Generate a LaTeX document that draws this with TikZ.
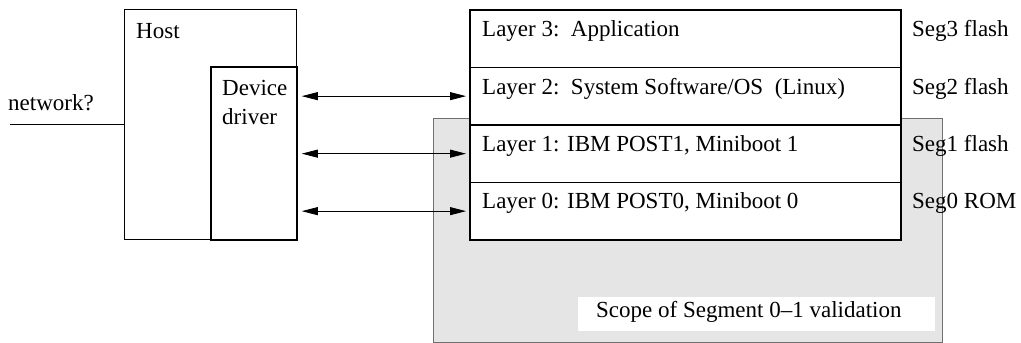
\documentclass[tikz,border=0pt]{standalone}
\usepackage{fontspec}
\setmainfont{Liberation Serif}
\usetikzlibrary{arrows.meta}
\definecolor{scopefill}{HTML}{E5E5E5}
\definecolor{scopeline}{HTML}{707070}
\begin{document}
\begin{tikzpicture}[x=1pt,y=-1pt,
  font=\fontsize{23}{28}\selectfont,
  box/.style={draw, rectangle, anchor=north west, inner sep=0pt, fill=white},
  layerbox/.style={box, line width=1.8pt, minimum width=431pt, minimum height=57.5pt},
  txt/.style={anchor=west, inner sep=0pt},
  biarrow/.style={line width=0.8pt, {Triangle[length=16pt,width=8pt]}-{Triangle[length=16pt,width=8pt]}, shorten <=4pt, shorten >=3pt}]
\useasboundingbox (0,0) rectangle (1021,343);
% scope region
\node[box, draw=scopeline, fill=scopefill, line width=1pt, minimum width=509pt, minimum height=224pt] (scope) at (433,118) {};
\node[fill=white, inner sep=0pt, minimum width=357pt, minimum height=34pt] (scopebox) at (756.5,314) {};
\node[txt] (scopelabel) at (596,312) {Scope of Segment 0--1 validation};
% host
\node[box, line width=1pt, minimum width=172pt, minimum height=230pt] (host) at (124,9) {};
\node[txt] (hostlabel) at (136,31) {Host};
\node[box, line width=1.8pt, minimum width=86pt, minimum height=173pt] (driver) at (210,66) {};
\node[txt] (drv1) at (222,88) {Device};
\node[txt] (drv2) at (222,117) {driver};
% network
\coordinate (net) at (10,124);
\draw[line width=1pt] (net) -- (net -| host.west);
\node[txt] (netlabel) at (8,103) {network?};
% layers
\node[layerbox] (L3) at (469,9) {};
\node[layerbox] (L2) at (469,66.5) {};
\node[layerbox] (L1) at (469,124) {};
\node[layerbox] (L0) at (469,181.5) {};
\node[txt] (t3) at (482,31) {Layer 3:\ \ Application};
\node[txt] (t2) at (482,88.5) {Layer 2:\ \ System Software/OS\ \ (Linux)};
\node[txt] (t1) at (482,146) {Layer 1: IBM POST1, Miniboot 1};
\node[txt] (t0) at (482,203.5) {Layer 0: IBM POST0, Miniboot 0};
\node[txt] (s3) at (912,31) {Seg3 flash};
\node[txt] (s2) at (912,88.5) {Seg2 flash};
\node[txt] (s1) at (912,146) {Seg1 flash};
\node[txt] (s0) at (912,203.5) {Seg0 ROM};
% arrows
\draw[biarrow] (L2.west -| driver.east) -- (L2.west);
\draw[biarrow] (L1.west -| driver.east) -- (L1.west);
\draw[biarrow] (L0.west -| driver.east) -- (L0.west);
\end{tikzpicture}
\end{document}
